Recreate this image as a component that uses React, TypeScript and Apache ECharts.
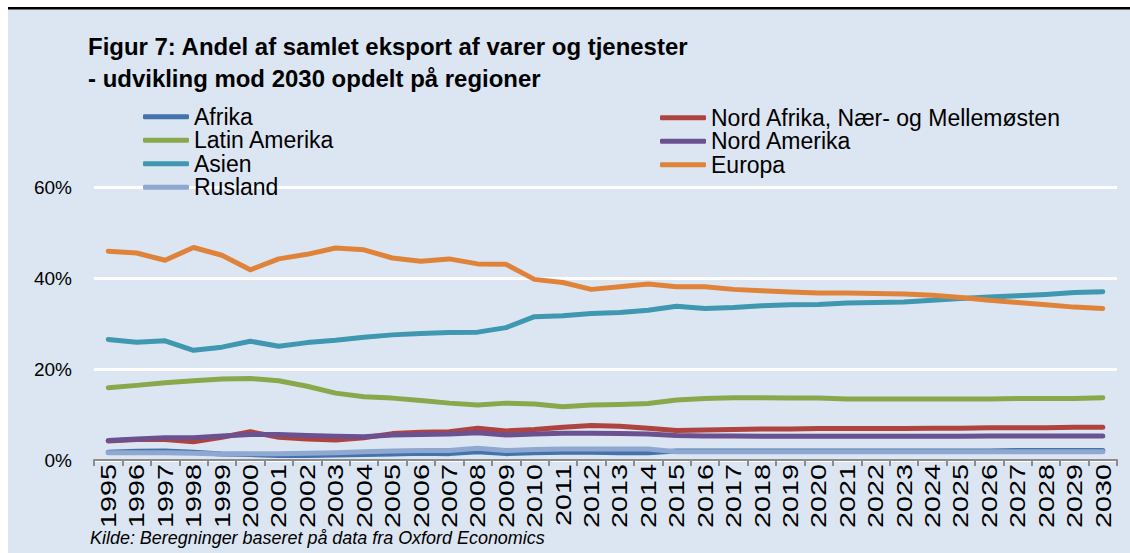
import React, { useEffect, useRef } from "react";
import * as echarts from "echarts";

const years = ["1995","1996","1997","1998","1999","2000","2001","2002","2003","2004","2005","2006","2007","2008","2009","2010","2011","2012","2013","2014","2015","2016","2017","2018","2019","2020","2021","2022","2023","2024","2025","2026","2027","2028","2029","2030"];

const afrika = [1.7,1.9,2.0,1.7,1.3,1.2,1.0,1.0,1.1,1.2,1.3,1.5,1.4,1.8,1.4,1.6,1.7,1.7,1.6,1.6,2.0,2.0,2.0,2.0,2.0,2.0,2.0,2.0,2.0,2.0,2.0,2.0,2.1,2.1,2.1,2.1];
const nordAfrika = [4.2,4.5,4.5,4.0,5.0,6.2,5.0,4.6,4.4,4.9,5.8,6.1,6.2,7.0,6.4,6.7,7.2,7.6,7.4,7.0,6.5,6.6,6.7,6.8,6.8,6.9,6.9,6.9,6.9,7.0,7.0,7.1,7.1,7.1,7.2,7.2];
const latinAmerika = [15.9,16.4,17.0,17.4,17.8,17.9,17.4,16.2,14.7,13.9,13.6,13.1,12.5,12.1,12.5,12.3,11.7,12.1,12.2,12.4,13.2,13.5,13.7,13.7,13.6,13.6,13.4,13.4,13.4,13.4,13.4,13.4,13.5,13.5,13.5,13.7];
const nordAmerika = [4.3,4.6,4.9,4.9,5.3,5.6,5.6,5.4,5.2,5.1,5.5,5.6,5.7,6.0,5.5,5.7,5.9,5.9,5.8,5.7,5.4,5.3,5.3,5.2,5.2,5.2,5.2,5.2,5.2,5.2,5.2,5.3,5.3,5.3,5.3,5.3];
const asien = [26.5,25.9,26.2,24.1,24.8,26.1,25.0,25.8,26.3,27.0,27.5,27.8,28.0,28.1,29.1,31.5,31.7,32.2,32.4,32.9,33.8,33.3,33.5,33.9,34.1,34.2,34.5,34.6,34.7,35.1,35.5,35.8,36.1,36.4,36.8,37.0];
const europa = [45.9,45.5,43.9,46.7,45.0,41.8,44.2,45.2,46.6,46.2,44.4,43.7,44.2,43.1,43.0,39.7,39.0,37.5,38.1,38.7,38.1,38.1,37.5,37.2,36.9,36.7,36.7,36.6,36.5,36.2,35.7,35.1,34.6,34.1,33.6,33.3];
const rusland = [1.6,1.6,1.6,1.5,1.3,1.4,1.4,1.5,1.6,1.8,2.0,2.1,2.1,2.6,2.1,2.3,2.4,2.4,2.4,2.4,1.8,1.8,1.8,1.8,1.8,1.8,1.8,1.8,1.8,1.8,1.8,1.8,1.8,1.8,1.8,1.8];

const yTicks = [0, 20, 40, 60];

const titleLine1 = "Figur 7: Andel af samlet eksport af varer og tjenester";
const titleLine2 = "- udvikling mod 2030 opdelt på regioner";
const sourceText = "Kilde: Beregninger baseret på data fra Oxford Economics";

const seriesDefs = [
  { name: "Afrika", data: afrika, color: "#4472ab" },
  { name: "Nord Afrika, Nær- og Mellemøsten", data: nordAfrika, color: "#ae433f" },
  { name: "Latin Amerika", data: latinAmerika, color: "#89a84b" },
  { name: "Nord Amerika", data: nordAmerika, color: "#6b5190" },
  { name: "Asien", data: asien, color: "#3f97b0" },
  { name: "Europa", data: europa, color: "#e0833a" },
  { name: "Rusland", data: rusland, color: "#8fa8d2" },
];

const FONT = '"Liberation Sans", Arial, sans-serif';

function textW(text: string, font: string): number {
  const ctx = document.createElement("canvas").getContext("2d");
  if (!ctx) return text.length * 10;
  ctx.font = font;
  return ctx.measureText(text).width;
}

export default function App() {
  const ref = useRef<HTMLDivElement>(null);
  useEffect(() => {
    if (!ref.current) return;
    const chart = echarts.init(ref.current, null, { renderer: "svg" });
    const legendCommon = {
      orient: "vertical",
      itemWidth: 46,
      itemHeight: 5,
      itemGap: 0,
      padding: 0,
      icon: "roundRect",
      selectedMode: false,
      textStyle: { fontFamily: FONT, fontSize: 23, color: "#000", lineHeight: 23.5 },
    };
    chart.setOption({
      animation: false,
      backgroundColor: "#dce6f2",
      textStyle: { fontFamily: FONT },
      legend: [
        { ...legendCommon, left: 143, top: 105, data: ["Afrika", "Latin Amerika", "Asien", "Rusland"] },
        { ...legendCommon, left: 660, top: 106, data: ["Nord Afrika, Nær- og Mellemøsten", "Nord Amerika", "Europa"] },
      ],
      grid: { left: 94, right: 13, top: 187, bottom: 93, containLabel: false },
      xAxis: {
        type: "category",
        data: years,
        boundaryGap: true,
        axisLine: { lineStyle: { color: "#8c8c8c", width: 2 } },
        axisTick: { show: true, interval: 0, length: 6, lineStyle: { color: "#8c8c8c", width: 2 } },
        axisLabel: { show: false },
        splitLine: { show: false },
      },
      yAxis: {
        type: "value",
        min: yTicks[0],
        max: yTicks[yTicks.length - 1],
        interval: 20,
        axisLine: { show: false },
        axisTick: { show: false },
        axisLabel: { formatter: "{value}%", fontSize: 19, color: "#000", fontFamily: FONT, margin: 22 },
        splitLine: { lineStyle: { color: "#ffffff", width: 3 } },
      },
      series: seriesDefs.map((s) => ({
        name: s.name,
        type: "line",
        data: s.data,
        symbol: "none",
        color: s.color,
        lineStyle: { color: s.color, width: 5, cap: "round", join: "round" },
      })),
    });

    const y0 = chart.convertToPixel({ yAxisIndex: 0 }, 0) as number;
    const yearFont = `22px ${FONT}`;
    const yearScale = 64 / textW("1995", yearFont);
    const yearLabels = years.map((yr) => ({
      type: "text",
      x: chart.convertToPixel({ xAxisIndex: 0 }, yr) as number,
      y: y0 + 4,
      rotation: Math.PI / 2,
      scaleX: yearScale,
      silent: true,
      style: {
        text: yr,
        fontSize: 22,
        fontFamily: FONT,
        fill: "#000",
        align: "right",
        textAlign: "right",
        verticalAlign: "middle",
        textVerticalAlign: "middle",
      },
    }));

    const titleFont = `bold 24px ${FONT}`;
    const titleScale = 601 / textW(titleLine1, titleFont);
    const srcFont = `italic 19px ${FONT}`;
    const srcScale = 455 / textW(sourceText, srcFont);

    const titleText = (t: string, y: number) => ({
      type: "text",
      x: 88,
      y,
      scaleX: titleScale,
      silent: true,
      style: {
        text: t,
        fontSize: 24,
        fontWeight: "bold",
        fontFamily: FONT,
        fill: "#000",
        align: "left",
        textAlign: "left",
        verticalAlign: "middle",
        textVerticalAlign: "middle",
      },
    });

    chart.setOption({
      graphic: [
        { type: "rect", silent: true, shape: { x: 0, y: 0, width: 1130, height: 7 }, style: { fill: "#ffffff" } },
        { type: "rect", silent: true, shape: { x: 0, y: 0, width: 8, height: 553 }, style: { fill: "#ffffff" } },
        { type: "rect", silent: true, shape: { x: 8, y: 7, width: 1122, height: 2.5 }, style: { fill: "#000000" } },
        titleText(titleLine1, 46),
        titleText(titleLine2, 78),
        {
          type: "text",
          x: 90,
          y: 537,
          scaleX: srcScale,
          silent: true,
          style: {
            text: sourceText,
            fontSize: 19,
            fontStyle: "italic",
            fontFamily: FONT,
            fill: "#000",
            align: "left",
            textAlign: "left",
            verticalAlign: "middle",
            textVerticalAlign: "middle",
          },
        },
        ...yearLabels,
      ],
    });

    return () => chart.dispose();
  }, []);
  return <div ref={ref} style={{ position: "fixed", left: 0, top: 0, width: 1130, height: 553 }} />;
}
